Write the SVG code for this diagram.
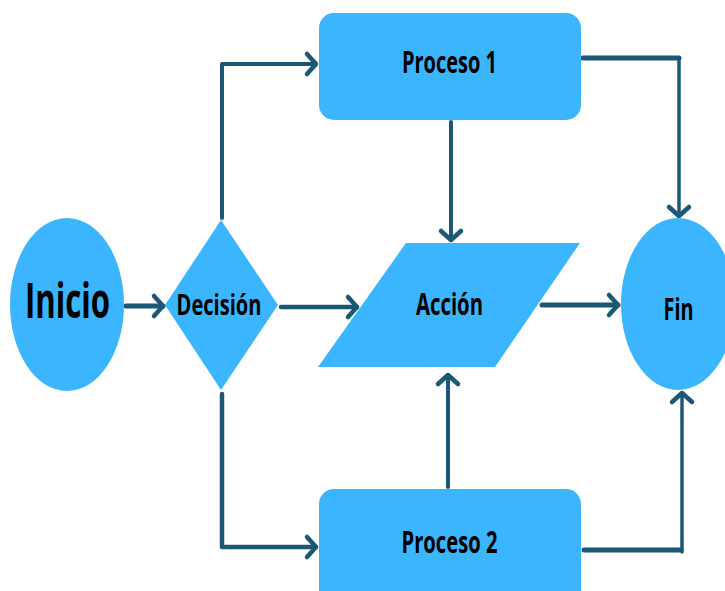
<svg xmlns="http://www.w3.org/2000/svg" width="725" height="591" viewBox="0 0 725 591">
<style>
.shape{fill:#3bb6fe;}
.lbl{font-family:"Open Sans","Noto Sans","Liberation Sans",sans-serif;font-weight:700;fill:#000;text-anchor:middle;}
.conn{fill:none;stroke:#1b5876;stroke-linecap:round;stroke-linejoin:round;}
</style>
<defs>
<marker id="arr" markerUnits="userSpaceOnUse" markerWidth="30" markerHeight="30" viewBox="-15 -15 30 30" refX="0" refY="0" orient="auto" overflow="visible">
<path d="M-9,-10 L0,0 L-9,10" fill="none" stroke="#1b5876" stroke-width="4.5" stroke-linecap="round" stroke-linejoin="round"/>
</marker>
</defs>
<rect width="725" height="591" fill="#ffffff"/>
<g id="connectors">
<path class="conn" d="M126,306 H163" stroke-width="5" marker-end="url(#arr)"/>
<path class="conn" d="M222,218 V64 H316" stroke-width="4" marker-end="url(#arr)"/>
<path class="conn" d="M281,307 H357" stroke-width="4.5" marker-end="url(#arr)"/>
<path class="conn" d="M222,394 V547 H316" stroke-width="4.5" marker-end="url(#arr)"/>
<path class="conn" d="M451,122 V240" stroke-width="4" marker-end="url(#arr)"/>
<path class="conn" d="M448,487 V375" stroke-width="4" marker-end="url(#arr)"/>
<path class="conn" d="M583,58 H679" stroke-width="5"/>
<path class="conn" d="M679,58 V216" stroke-width="3.5" marker-end="url(#arr)"/>
<path class="conn" d="M542,305 H618" stroke-width="5" marker-end="url(#arr)"/>
<path class="conn" d="M584,550 H681" stroke-width="5"/>
<path class="conn" d="M682,552 V393" stroke-width="3.5" marker-end="url(#arr)"/>
</g>
<g id="inicio">
<ellipse class="shape" cx="67" cy="304.5" rx="57" ry="86.5"/>
<text class="lbl" x="67.5" y="318" font-size="48" textLength="85" lengthAdjust="spacingAndGlyphs">Inicio</text>
</g>
<g id="decision">
<polygon class="shape" points="165,305 221,220 278,305 221,390"/>
<text class="lbl" x="219" y="315" font-size="28" textLength="85" lengthAdjust="spacingAndGlyphs">Decisión</text>
</g>
<g id="proceso1">
<rect class="shape" x="319" y="13" width="262" height="107" rx="15"/>
<text class="lbl" x="449.5" y="73" font-size="31" textLength="95" lengthAdjust="spacingAndGlyphs">Proceso 1</text>
</g>
<g id="accion">
<polygon class="shape" points="406,243 580,243 495,367 318,367"/>
<text class="lbl" x="449.5" y="315" font-size="31" textLength="67" lengthAdjust="spacingAndGlyphs">Acción</text>
</g>
<g id="fin">
<ellipse class="shape" cx="678" cy="304" rx="57" ry="86"/>
<text class="lbl" x="678.5" y="320" font-size="30" textLength="30" lengthAdjust="spacingAndGlyphs">Fin</text>
</g>
<g id="proceso2">
<rect class="shape" x="319" y="489" width="262" height="125" rx="15"/>
<text class="lbl" x="449.5" y="553" font-size="31" textLength="96" lengthAdjust="spacingAndGlyphs">Proceso 2</text>
</g>
</svg>
